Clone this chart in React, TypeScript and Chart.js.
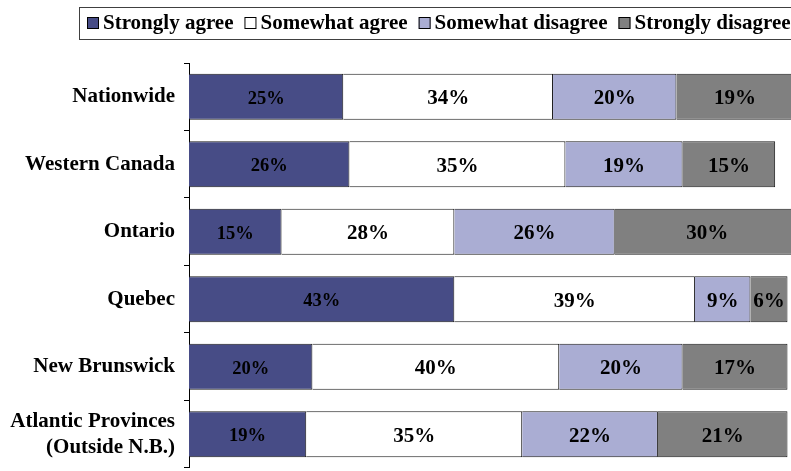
import React, { useEffect, useRef } from "react";
import { Chart, registerables } from "chart.js";

Chart.register(...registerables);

const categories: (string | string[])[] = [
  "Nationwide",
  "Western Canada",
  "Ontario",
  "Quebec",
  "New Brunswick",
  ["Atlantic Provinces", "(Outside N.B.)"],
];
const seriesNames = ["Strongly agree", "Somewhat agree", "Somewhat disagree", "Strongly disagree"];
const stronglyAgree = [25, 26, 15, 43, 20, 19];
const somewhatAgree = [34, 35, 28, 39, 40, 35];
const somewhatDisagree = [20, 19, 26, 9, 20, 22];
const stronglyDisagree = [19, 15, 30, 6, 17, 21];
const seriesColors = ["#474c86", "#ffffff", "#aaadd3", "#808080"];

const FONT = "'Liberation Serif', 'Times New Roman', serif";

const legendPlugin = {
  id: "boxLegend",
  afterDraw(chart: any) {
    const ctx = chart.ctx;
    ctx.save();
    ctx.font = `bold 21px ${FONT}`;
    const left = 79;
    const top = 7;
    const bottom = 39;
    const pad = 8;
    const sq = 12;
    const gap = 4;
    const spacing = 11;
    const cy = (top + bottom) / 2;
    let x = left + pad;
    const items = chart.data.datasets.map((d: any) => ({ label: d.label, color: d.backgroundColor }));
    let total = 0;
    items.forEach((it: any, i: number) => {
      total += sq + gap + ctx.measureText(it.label).width + (i < items.length - 1 ? spacing : 0);
    });
    const right = left + pad + total + pad;
    ctx.fillStyle = "#ffffff";
    ctx.fillRect(left, top, right - left, bottom - top);
    ctx.strokeStyle = "#404040";
    ctx.lineWidth = 1;
    ctx.strokeRect(left + 0.5, top + 0.5, right - left, bottom - top);
    ctx.textBaseline = "middle";
    ctx.textAlign = "left";
    items.forEach((it: any) => {
      ctx.fillStyle = it.color;
      ctx.fillRect(x, cy - sq / 2, sq, sq);
      ctx.strokeStyle = "#000";
      ctx.strokeRect(x + 0.5, cy - sq / 2 + 0.5, sq - 1, sq - 1);
      x += sq + gap;
      ctx.fillStyle = "#000";
      ctx.fillText(it.label, x, cy + 1);
      x += ctx.measureText(it.label).width + spacing;
    });
    ctx.restore();
  },
};

const valueLabelPlugin = {
  id: "valueLabels",
  afterDatasetsDraw(chart: any) {
    const ctx = chart.ctx;
    ctx.save();
    ctx.fillStyle = "#000";
    ctx.textAlign = "center";
    ctx.textBaseline = "middle";
    chart.data.datasets.forEach((ds: any, di: number) => {
      const meta = chart.getDatasetMeta(di);
      const size = di === 0 ? 18.5 : 21;
      ctx.font = `bold ${size}px ${FONT}`;
      meta.data.forEach((el: any, i: number) => {
        const v = ds.data[i];
        const cx = (el.x + el.base) / 2;
        ctx.fillText(`${v}%`, cx, el.y + 2);
      });
    });
    ctx.restore();
  },
};

export default function App() {
  const ref = useRef<HTMLCanvasElement>(null);

  useEffect(() => {
    const canvas = ref.current;
    if (!canvas) return;
    const seriesValues = [stronglyAgree, somewhatAgree, somewhatDisagree, stronglyDisagree];
    const chart = new Chart(canvas, {
      type: "bar",
      data: {
        labels: categories,
        datasets: seriesNames.map((name, i) => ({
          label: name,
          data: seriesValues[i],
          backgroundColor: seriesColors[i],
          borderColor: "#1a1a1a",
          borderWidth: 1,
          barPercentage: 0.684,
          categoryPercentage: 1,
        })),
      },
      options: {
        indexAxis: "y",
        responsive: false,
        animation: false,
        devicePixelRatio: 1,
        layout: { padding: { top: 63, left: 0, right: 14, bottom: 15 } },
        plugins: {
          legend: { display: false },
          tooltip: { enabled: false },
          title: { display: false },
        },
        scales: {
          x: {
            type: "linear",
            stacked: true,
            min: 0,
            max: 100,
            display: false,
          },
          y: {
            type: "category",
            stacked: true,
            grid: {
              drawOnChartArea: false,
              drawTicks: true,
              tickLength: 5,
              color: "#000",
              offset: true,
            },
            border: { display: true, color: "#000", width: 1 },
            ticks: {
              color: "#000",
              autoSkip: false,
              padding: 9,
              font: { family: FONT, size: 21, weight: "bold", lineHeight: 1.24 },
            },
            afterFit: (s: any) => {
              s.width = 189;
            },
          },
        },
      },
      plugins: [legendPlugin, valueLabelPlugin],
    } as any);
    return () => chart.destroy();
  }, []);

  return (
    <div
      style={{
        position: "absolute",
        left: 0,
        top: 0,
        width: 791,
        height: 471,
        overflow: "hidden",
        background: "#ffffff",
      }}
    >
      <canvas ref={ref} width={820} height={490} style={{ display: "block" }} />
    </div>
  );
}
